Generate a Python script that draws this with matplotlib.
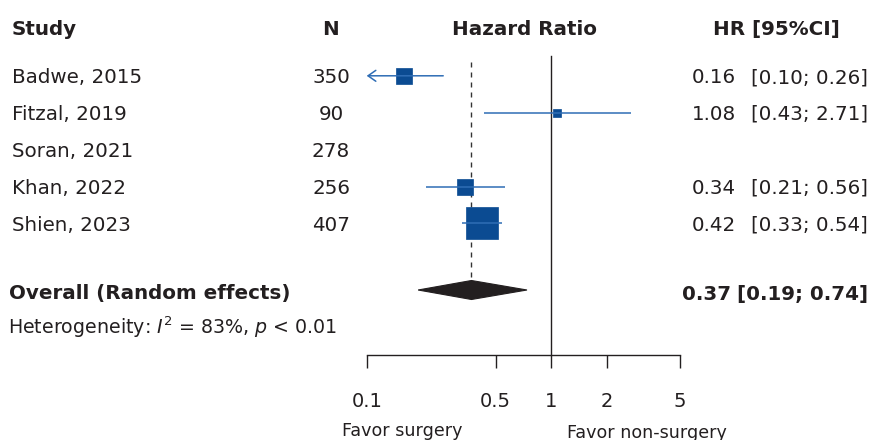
import numpy as np
import matplotlib
matplotlib.use("Agg")
import matplotlib.pyplot as plt
from matplotlib.patches import Polygon

plt.rcParams["font.family"] = ["DejaVu Sans"]
plt.rcParams["mathtext.fontset"] = "dejavusans"

# ---- data ---------------------------------------------------------------
studies = ["Badwe, 2015", "Fitzal, 2019", "Soran, 2021", "Khan, 2022", "Shien, 2023"]
n_patients = [350, 90, 278, 256, 407]
hr = [0.16, 1.08, np.nan, 0.34, 0.42]
ci_low = [0.10, 0.43, np.nan, 0.21, 0.33]
ci_high = [0.26, 2.71, np.nan, 0.56, 0.54]

overall_hr = 0.37
overall_low = 0.19
overall_high = 0.74
i2 = 83

x_ticks = [0.1, 0.5, 1, 2, 5]
x_tick_labels = ["0.1", "0.5", "1", "2", "5"]

# ---- layout (pixel geometry of the 871 x 440 canvas) --------------------
W, H = 871, 440
TXT = "#231F20"
BOX = "#0B4B92"
LINE = "#2F6DB5"

row_y = [75.8 + 36.9 * i for i in range(len(studies))]
overall_y = 290
axis_y = 355
x_left, x_right = 366.7, 680.0

fig = plt.figure(figsize=(W / 100, H / 100), dpi=100)


def fx(x):
    return x / W


def fy(y):
    return 1 - y / H


def put(x, y, s, **kw):
    kw.setdefault("color", TXT)
    kw.setdefault("fontsize", 14.3)
    kw.setdefault("va", "baseline")
    fig.text(fx(x), fy(y), s, **kw)


# forest panel: x in hazard ratio (log), y in pixel rows from the top
ax = fig.add_axes([fx(x_left), fy(axis_y), (x_right - x_left) / W, axis_y / H])
ax.set_xscale("log")
ax.set_xlim(0.1, 5)
ax.set_ylim(axis_y, 0)
ax.patch.set_visible(False)
for side in ["top", "right", "left"]:
    ax.spines[side].set_visible(False)
ax.spines["bottom"].set_linewidth(1.0)
ax.spines["bottom"].set_color(TXT)
ax.set_yticks([])
ax.set_xticks(x_ticks)
ax.set_xticklabels(x_tick_labels)
ax.xaxis.set_minor_locator(matplotlib.ticker.NullLocator())
ax.tick_params(axis="x", direction="out", length=9.6, width=1.0, color=TXT,
               labelsize=14, labelcolor=TXT, pad=17)

# reference line at HR = 1 and dashed line at the pooled estimate
ax.plot([1, 1], [56, axis_y], color=TXT, lw=1.0, clip_on=False)
ax.plot([overall_hr, overall_hr], [62, overall_y - 10], color="#333333", lw=1.0,
        ls=(0, (3.6, 3.6)), clip_on=False)

# study estimates: box side grows with sqrt of inverse-variance weight
for y, est, lo, hi in zip(row_y, hr, ci_low, ci_high):
    if np.isnan(est):
        continue
    se = (np.log(hi) - np.log(lo)) / (2 * 1.96)
    side_px = 4.1 / se
    ax.plot([est], [y], marker="s", ms=side_px * 0.72, mfc=BOX, mec=BOX,
            mew=0.5, ls="none", zorder=3, clip_on=False)
    if lo <= 0.1:
        ax.annotate("", xy=(0.1, y), xytext=(hi, y),
                    arrowprops=dict(arrowstyle="->,head_length=0.4,head_width=0.28",
                                    color=LINE, lw=1.1, shrinkA=0, shrinkB=0,
                                    mutation_scale=14),
                    annotation_clip=False, zorder=4)
    else:
        ax.plot([lo, hi], [y, y], color=LINE, lw=1.1, zorder=4, clip_on=False,
                solid_capstyle="butt")

# pooled random-effects diamond
dia = Polygon([[overall_low, overall_y], [overall_hr, overall_y - 9.5],
               [overall_high, overall_y], [overall_hr, overall_y + 9.5]],
              closed=True, facecolor=TXT, edgecolor=TXT, lw=0.8, zorder=3,
              clip_on=False)
ax.add_patch(dia)

# ---- text columns -------------------------------------------------------
put(12, 35, "Study", fontweight="bold")
put(330, 35, "N", fontweight="bold", ha="center")
put(524, 35, "Hazard Ratio", fontweight="bold", ha="center")
put(776, 35, "HR [95%CI]", fontweight="bold", ha="center")

for y, name, n, est, lo, hi in zip(row_y, studies, n_patients, hr, ci_low, ci_high):
    base = y + 7.2
    put(12, base, name)
    put(331, base, f"{n}", ha="center")
    if not np.isnan(est):
        put(736, base, f"{est:.2f}", ha="right")
        put(868, base, f"[{lo:.2f}; {hi:.2f}]", ha="right")

put(9, 299, "Overall (Random effects)", fontweight="bold")
put(731, 300, f"{overall_hr:.2f}", fontweight="bold", ha="right")
put(868, 300, f"[{overall_low:.2f}; {overall_high:.2f}]", fontweight="bold", ha="right")
put(8, 333.5, rf"Heterogeneity: $I^2$ = {i2}%, $p$ < 0.01", fontsize=13.7)

put(402, 435.5, "Favor surgery", fontsize=12.6, ha="center")
put(647, 437.5, "Favor non-surgery", fontsize=12.6, ha="center")

fig.savefig("out.png", dpi=100)
